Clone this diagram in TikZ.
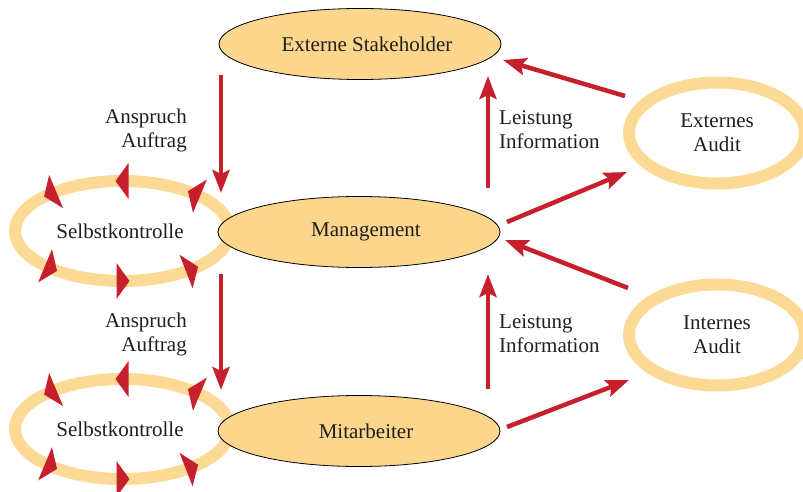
\documentclass[tikz,border=0pt]{standalone}
\usepackage{fontspec}
\setmainfont{Liberation Serif}
\usetikzlibrary{shapes.geometric,arrows.meta}
\definecolor{fillc}{RGB}{252,214,140}
\definecolor{ringc}{RGB}{253,217,150}
\definecolor{redc}{RGB}{198,32,45}
\begin{document}
\begin{tikzpicture}[x=1pt,y=-1pt,
  every node/.style={font=\fontsize{21}{24}\selectfont, text=black!88},
  blob/.style={ellipse, draw=black, line width=0.8pt, fill=fillc, minimum width=282pt, minimum height=71pt, inner sep=0pt},
  ring/.style={ellipse, draw=ringc, line width=12pt, inner sep=0pt, align=center},
  selbst/.style={ring, minimum width=215pt, minimum height=100pt},
  audit/.style={ring, minimum width=176pt, minimum height=101pt},
  flow/.style={draw=redc, line width=4.5pt, -{Stealth[length=23pt,width=17pt,inset=4pt]}},
  lblr/.style={align=right, anchor=east, inner sep=0pt},
  lbll/.style={align=left, anchor=west, inner sep=0pt}
]
\useasboundingbox (0,0) rectangle (803,492);
\clip (0,0) rectangle (803,492);

% rings
\node[selbst] (SK1) at (122.5,231) {\hspace*{-5pt}Selbstkontrolle};
\node[selbst] (SK2) at (122.5,429) {\hspace*{-5pt}Selbstkontrolle};
\node[audit] (EA) at (717,133) {Externes\\Audit};
\node[audit] (IA) at (717,335) {Internes\\Audit};

% circulating arrowheads on the Selbstkontrolle rings
\foreach \cy in {231,429}{
  \foreach \t in {48,90,132,228,270,310}{
    \pgfmathsetmacro\L{sqrt((107.5*sin(\t))^2+(50*cos(\t))^2)}
    \pgfmathsetmacro\Tx{-107.5*sin(\t)/\L}
    \pgfmathsetmacro\Ty{-50*cos(\t)/\L}
    \pgfmathsetmacro\Px{122.5+107.5*cos(\t)}
    \pgfmathsetmacro\Py{\cy-50*sin(\t)}
    \fill[redc] ({\Px+7*\Tx},{\Py+7*\Ty}) -- ({\Px-6*\Tx-18*\Ty},{\Py-6*\Ty+18*\Tx}) -- ({\Px-6*\Tx+18*\Ty},{\Py-6*\Ty-18*\Tx}) -- cycle;
  }
}

% main ellipses
\node[blob] (ES) at (360,44) {\hspace*{14pt}Externe Stakeholder};
\node[blob] (MG) at (359,232) {\hspace*{14pt}Management};
\node[blob] (MA) at (359,431) {\hspace*{14pt}Mitarbeiter};

% labels
\node[lblr] (L1) at (187,130) {Anspruch\\Auftrag};
\node[lblr] (L2) at (187,334) {Anspruch\\Auftrag};
\node[lbll] (L3) at (499,130) {Leistung\\Information};
\node[lbll] (L4) at (499,334) {Leistung\\Information};

% connector end points
\coordinate (esdown) at (221,75);
\coordinate (mgin1) at (221,193);
\coordinate (mgdown) at (221,274);
\coordinate (main1) at (221,390);
\coordinate (mgup) at (488,188);
\coordinate (esin) at (488,76);
\coordinate (maup) at (488,389);
\coordinate (mgin2) at (488,274);
\coordinate (eaout) at (625,96);
\coordinate (esin2) at (503,60);
\coordinate (mgout) at (507,222);
\coordinate (eain) at (627,172);
\coordinate (iaout) at (628,288);
\coordinate (mgin3) at (505,240);
\coordinate (maout) at (507,427);
\coordinate (iain) at (629,380);

\draw[flow] (esdown) -- (mgin1);
\draw[flow] (mgdown) -- (main1);
\draw[flow] (mgup) -- (esin);
\draw[flow] (maup) -- (mgin2);
\draw[flow] (eaout) -- (esin2);
\draw[flow] (mgout) -- (eain);
\draw[flow] (iaout) -- (mgin3);
\draw[flow] (maout) -- (iain);
\end{tikzpicture}
\end{document}
